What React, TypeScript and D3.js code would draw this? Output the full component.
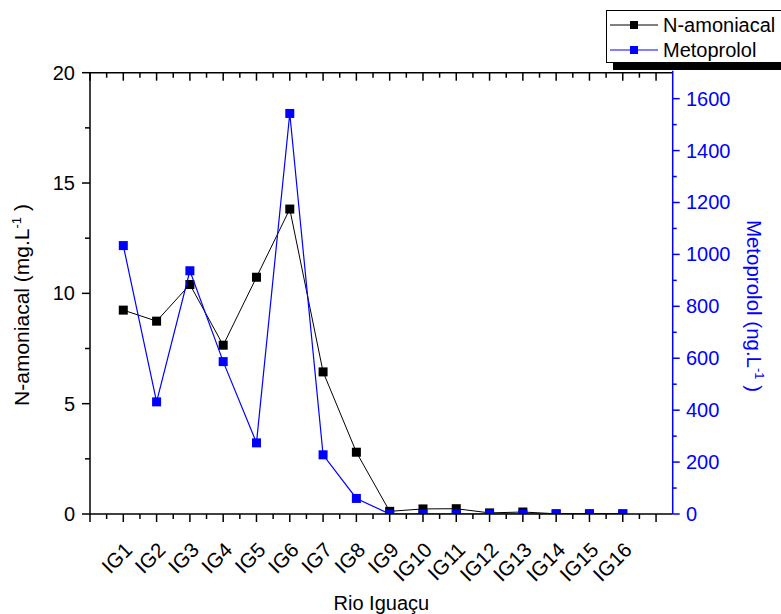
import React from "react";
import * as d3 from "d3";

const categories = ["IG1","IG2","IG3","IG4","IG5","IG6","IG7","IG8","IG9","IG10","IG11","IG12","IG13","IG14","IG15","IG16"];
const nAmoniacal = [9.24, 8.74, 10.40, 7.65, 10.73, 13.82, 6.44, 2.80, 0.12, 0.23, 0.24, 0.05, 0.09, 0.01, 0.01, 0.01];
const metoprolol = [1034, 432, 937, 587, 274, 1543, 228, 60, 0, 0, 0, 0, 0, 0, 0, 0];
const leftTicks = [0, 5, 10, 15, 20];
const rightTicks = [0, 200, 400, 600, 800, 1000, 1200, 1400, 1600];
const seriesNames = ["N-amoniacal", "Metoprolol"];

const FONT = "'Liberation Sans', Arial, Helvetica, sans-serif";
const BLUE = "#0000ff";

export default function App() {
  const W = 781, H = 614;
  const L = 90, R = 672.7, T = 72.7, B = 514;
  const x = d3.scaleLinear().domain([0, 17.5]).range([L, R]);
  const yL = d3.scaleLinear().domain([0, 20]).range([B, T]);
  const yR = d3.scaleLinear().domain([0, 1700]).range([B, T]);

  const lineL = d3.line<number>().x((_, i) => x(i + 1)).y(d => yL(d));
  const lineR = d3.line<number>().x((_, i) => x(i + 1)).y(d => yR(d));

  const xMajor = d3.range(0, 18, 1);
  const xMinor = d3.range(0.5, 17.5, 1);
  const lMinor = d3.range(2.5, 20, 5);
  const rMinor = d3.range(100, 1700, 200);
  const ms = 9;

  return (
    <svg width={W} height={H} style={{ position: "absolute", left: 0, top: 0, background: "#fff" }} fontFamily={FONT}>
      <defs>
        <clipPath id="plotclip">
          <rect x={L} y={T} width={R - L} height={B - T} />
        </clipPath>
      </defs>

      {/* data */}
      <g clipPath="url(#plotclip)">
        <path d={lineL(nAmoniacal) || ""} fill="none" stroke="#000" strokeWidth={1} />
        {nAmoniacal.map((v, i) => (
          <rect key={"n" + i} x={x(i + 1) - ms / 2} y={yL(v) - ms / 2} width={ms} height={ms} fill="#000" />
        ))}
        <path d={lineR(metoprolol) || ""} fill="none" stroke={BLUE} strokeWidth={1.2} />
        {metoprolol.map((v, i) => (
          <rect key={"m" + i} x={x(i + 1) - ms / 2} y={yR(v) - ms / 2} width={ms} height={ms} fill={BLUE} />
        ))}
      </g>

      {/* frame top & bottom */}
      <line x1={L} x2={R} y1={T} y2={T} stroke="#000" strokeWidth={1.5} />
      <line x1={L} x2={R} y1={B} y2={B} stroke="#000" strokeWidth={1.5} />
      {xMajor.map(t => (
        <g key={"xt" + t}>
          <line x1={x(t)} x2={x(t)} y1={B} y2={B + 8} stroke="#000" strokeWidth={1.5} />
          <line x1={x(t)} x2={x(t)} y1={T} y2={T + 8} stroke="#000" strokeWidth={1.5} />
        </g>
      ))}
      {xMinor.map(t => (
        <g key={"xm" + t}>
          <line x1={x(t)} x2={x(t)} y1={B} y2={B + 5} stroke="#000" strokeWidth={1.5} />
          <line x1={x(t)} x2={x(t)} y1={T} y2={T + 5} stroke="#000" strokeWidth={1.5} />
        </g>
      ))}

      {/* left axis */}
      <line x1={L} x2={L} y1={T} y2={B} stroke="#000" strokeWidth={1.5} />
      {leftTicks.map(t => (
        <g key={"lt" + t}>
          <line x1={L - 8} x2={L} y1={yL(t)} y2={yL(t)} stroke="#000" strokeWidth={1.5} />
          <text x={75} y={yL(t)} textAnchor="end" dominantBaseline="central" fontSize={20}>{t}</text>
        </g>
      ))}
      {lMinor.map(t => (
        <line key={"lm" + t} x1={L - 5} x2={L} y1={yL(t)} y2={yL(t)} stroke="#000" strokeWidth={1.5} />
      ))}

      {/* right axis */}
      <line x1={R} x2={R} y1={T - 2} y2={B} stroke={BLUE} strokeWidth={1.5} />
      {rightTicks.map(t => (
        <g key={"rt" + t}>
          <line x1={R} x2={R + 7} y1={yR(t)} y2={yR(t)} stroke={BLUE} strokeWidth={1.5} />
          <text x={686} y={yR(t)} textAnchor="start" dominantBaseline="central" fontSize={20} fill={BLUE}>{t}</text>
        </g>
      ))}
      {rMinor.map(t => (
        <line key={"rm" + t} x1={R} x2={R + 4} y1={yR(t)} y2={yR(t)} stroke={BLUE} strokeWidth={1.5} />
      ))}

      {/* x tick labels */}
      {categories.map((c, i) => (
        <text key={c} transform={`translate(${x(i + 1) + 5},${546}) rotate(-45)`} textAnchor="end" dominantBaseline="central" fontSize={20.5}>{c}</text>
      ))}

      {/* axis titles */}
      <text x={(L + R) / 2} y={610} textAnchor="middle" fontSize={20}>Rio Iguaçu</text>
      <text transform={`translate(29,305) rotate(-90)`} textAnchor="middle" fontSize={21}>
        N-amoniacal (mg.L<tspan dy={-8} fontSize={13}>-1</tspan><tspan dy={8}> )</tspan>
      </text>
      <text transform={`translate(747,306) rotate(90)`} textAnchor="middle" fontSize={20.5} fill={BLUE}>
        Metoprolol (ng.L<tspan dy={-8} fontSize={13}>-1</tspan><tspan dy={8}> )</tspan>
      </text>

      {/* legend */}
      <rect x={613} y={63} width={200} height={7} fill="#000" />
      <rect x={606.5} y={10.5} width={200} height={52} fill="#fff" stroke="#000" strokeWidth={1} />
      {seriesNames.map((s, i) => {
        const cy = 25 + i * 25;
        const col = i === 0 ? "#000" : BLUE;
        return (
          <g key={s}>
            <line x1={610} x2={658} y1={cy} y2={cy} stroke={col} strokeWidth={1} />
            <rect x={634 - 4} y={cy - 4} width={8} height={8} fill={col} />
            <text x={663} y={cy} dominantBaseline="central" fontSize={20}>{s}</text>
          </g>
        );
      })}
    </svg>
  );
}
